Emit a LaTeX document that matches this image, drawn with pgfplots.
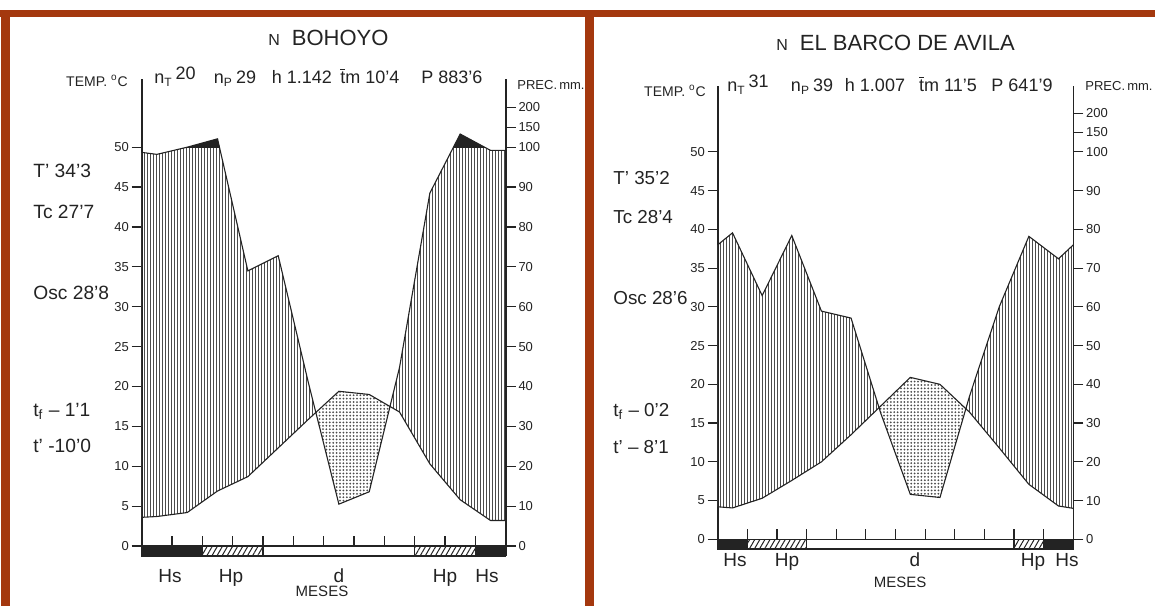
\documentclass[border=0pt]{standalone}
\usepackage{fontspec}
\setmainfont{Liberation Sans}
\usepackage{pgfplots}
\usepackage{pgfplotstable}
\pgfplotsset{compat=1.18}
\usepgfplotslibrary{fillbetween}
\usetikzlibrary{patterns.meta}

\definecolor{rust}{RGB}{164,56,14}
\definecolor{ink}{RGB}{35,35,35}
\definecolor{hatch}{RGB}{75,75,75}
\newcommand\fs[1]{\fontsize{#1}{#1}\selectfont}

% month centre, mean temperature (C), precipitation (mm)
\pgfplotstableread{
x t p
0 3.6 98.7
0.5 3.7 98.2
1.5 4.2 100
2.5 6.9 121
3.5 8.7 69
4.5 12.3 72.8
5.5 15.9 40.8
6.5 19.4 10.5
7.5 19.0 13.6
8.5 16.8 44.8
9.5 10.3 88.5
10.5 5.8 133
11.5 3.2 99.2
12 3.2 99.2
}\bohoyo

\pgfplotstableread{
x t p
0 4.2 76
0.5 4.05 79.1
1.5 5.3 62.9
2.5 7.6 78.4
3.5 10.0 58.9
4.5 13.5 57.1
5.5 17.2 32.6
6.5 20.9 11.6
7.5 20.0 10.8
8.5 16.4 37
9.5 11.8 60
10.5 7.1 78.2
11.5 4.3 72.4
12 4.0 76
}\barco

\pgfplotsset{
  wl/.style={
    scale only axis, xmin=0, xmax=12, ymin=-1.3, ymax=58.5,
    axis x line=none, clip=false,
    tick align=outside, major tick length=5pt,
    tick style={ink, line width=0.6pt},
    y axis line style={ink, line width=0.8pt},
    yticklabel style={font=\fs{6.5}, text=ink, inner sep=1.2pt},
    /pgf/number format/assume math mode=true,
  },
  wlL/.style={wl, axis y line*=left, ytick={0,5,10,15,20,25,30,35,40,45,50}},
  wlR/.style={wl, axis y line*=right,
    ytick={0,5,10,15,20,25,30,35,40,45,50,52.5,55},
    yticklabels={0,10,20,30,40,50,60,70,80,90,100,150,200}},
}

\newcommand\wlplots[1]{%
  \addplot[name path=T, draw=none] table[x=x,y=t]{#1};
  \addplot[name path=P, draw=none] table[x=x,y expr={min(\thisrow{p},100)/2+max(\thisrow{p}-100,0)/20}]{#1};
  \addplot[draw=none, fill=none] fill between[of=P and T, split,
    every even segment/.style={pattern={Lines[angle=90,distance=1.5pt,line width=0.48pt]},pattern color=hatch},
    every odd segment/.style={pattern={Dots[distance=1.7pt,radius=0.5pt]},pattern color=hatch}];
  \begin{scope}
  \clip (axis cs:0,50) rectangle (axis cs:12,62);
  \addplot[fill=ink, draw=none] table[x=x,y expr={min(\thisrow{p},100)/2+max(\thisrow{p}-100,0)/20}]{#1} \closedcycle;
  \end{scope}
  \addplot[ink, line width=0.55pt] table[x=x,y=t]{#1};
  \addplot[ink, line width=0.55pt] table[x=x,y expr={min(\thisrow{p},100)/2+max(\thisrow{p}-100,0)/20}]{#1};
  \addplot[ycomb, ink, line width=0.6pt] coordinates {(1,1.3) (2,1.3) (3,1.3) (4,1.3) (5,1.3) (6,1.3) (7,1.3) (8,1.3) (9,1.3) (10,1.3) (11,1.3)};
  \addplot[ink, line width=0.8pt] coordinates {(0,0) (12,0)};
}
\newcommand\barblack[2]{\addplot[fill=ink, draw=ink, line width=0.6pt] coordinates {(#1,0) (#2,0) (#2,-1.25) (#1,-1.25) (#1,0)};}
\newcommand\barwhite[2]{\addplot[fill=white, draw=ink, line width=0.6pt] coordinates {(#1,0) (#2,0) (#2,-1.25) (#1,-1.25) (#1,0)};}
\newcommand\barhatch[2]{\addplot[fill=white, draw=ink, line width=0.6pt] coordinates {(#1,0) (#2,0) (#2,-1.25) (#1,-1.25) (#1,0)};
  \addplot[draw=none, pattern={Lines[angle=60,distance=2.2pt,line width=0.5pt]}, pattern color=ink] coordinates {(#1,0) (#2,0) (#2,-1.25) (#1,-1.25) (#1,0)};}

\begin{document}
\begin{tikzpicture}

% ---------- BOHOYO ----------
\begin{axis}[wlL, at={(70.85pt,24.8pt)}, anchor=south west, width=182pt, height=238.5pt]
\wlplots{\bohoyo}
\barblack{0}{2}\barhatch{2}{4}\barwhite{4}{9}\barhatch{9}{11}\barblack{11}{12}
\end{axis}
\begin{axis}[wlR, at={(70.85pt,24.8pt)}, anchor=south west, width=182pt, height=238.5pt]
\addplot[draw=none] coordinates {(0,0)};
\end{axis}

% ---------- EL BARCO DE AVILA ----------
\begin{axis}[wlL, at={(358.85pt,28.3pt)}, anchor=south west, width=177.8pt, height=231.7pt]
\wlplots{\barco}
\barblack{0}{1}\barhatch{1}{3}\barwhite{3}{10}\barhatch{10}{11}\barblack{11}{12}
\end{axis}
\begin{axis}[wlR, at={(358.85pt,28.3pt)}, anchor=south west, width=177.8pt, height=231.7pt]
\addplot[draw=none] coordinates {(0,0)};
\end{axis}

\begin{scope}[x=0.5pt, y=-0.5pt, shift={(0pt,303pt)}]
% frame
\fill[rust] (0,10) rectangle (1155,17);
\fill[rust] (1,10) rectangle (10,606);
\fill[rust] (585,10) rectangle (594,606);

\begin{scope}[every node/.style={text=ink, inner sep=0pt}]
% left panel texts
\node[anchor=base west, font=\fs{11}] at (268,46) {{\fs{8}N}\hspace{6pt}BOHOYO};
\node[anchor=base, font=\fs{7}] at (97,87) {TEMP. \textsuperscript{o}C};
\node[anchor=base west, font=\fs{6.5}] at (517,90) {PREC.\,mm.};
\begin{scope}[every node/.append style={anchor=base, font=\fs{9}}]
\node at (175,84) {n\textsubscript{T}\,\raisebox{2pt}{20}};
\node at (235,84) {n\textsubscript{P}\,29};
\node at (302,84) {h 1.142};
\node at (370,84) {$\overline{\hbox{t}}$m 10'4};
\node at (452,84) {P 883'6};
\end{scope}
\begin{scope}[every node/.append style={anchor=base west, font=\fs{9.6}}]
\node at (33,178) {T' 34'3};
\node at (33,219) {Tc 27'7};
\node at (33,299) {Osc 28'8};
\node at (33,416) {t\textsubscript{f} -- 1'1};
\node at (33,452) {t' -10'0};
\end{scope}
\begin{scope}[every node/.append style={anchor=base, font=\fs{9.5}}]
\node at (170,582) {Hs};
\node at (231,582) {Hp};
\node at (339,582) {d};
\node at (445,582) {Hp};
\node at (487,582) {Hs};
\end{scope}
\node[anchor=base, font=\fs{7.5}] at (322,596) {MESES};

% right panel texts
\node[anchor=base west, font=\fs{11}] at (776,51) {{\fs{8}N}\hspace{6pt}EL BARCO DE AVILA};
\node[anchor=base, font=\fs{7}] at (675,97) {TEMP. \textsuperscript{o}C};
\node[anchor=base west, font=\fs{6.5}] at (1085,91) {PREC.\,mm.};
\begin{scope}[every node/.append style={anchor=base, font=\fs{9}}]
\node at (748,92) {n\textsubscript{T}\,\raisebox{2pt}{31}};
\node at (812,92) {n\textsubscript{P}\,39};
\node at (875,92) {h 1.007};
\node at (948,92) {$\overline{\hbox{t}}$m 11'5};
\node at (1022,92) {P 641'9};
\end{scope}
\begin{scope}[every node/.append style={anchor=base west, font=\fs{9.4}}]
\node at (613,184) {T' 35'2};
\node at (613,224) {Tc 28'4};
\node at (613,304) {Osc 28'6};
\node at (613,416) {t\textsubscript{f} -- 0'2};
\node at (613,453) {t' -- 8'1};
\end{scope}
\begin{scope}[every node/.append style={anchor=base, font=\fs{9.5}}]
\node at (735,566) {Hs};
\node at (787,566) {Hp};
\node at (915,566) {d};
\node at (1033,566) {Hp};
\node at (1067,566) {Hs};
\end{scope}
\node[anchor=base, font=\fs{7.5}] at (900,587) {MESES};
\end{scope}
\end{scope}
\pgfresetboundingbox
\useasboundingbox (0,0) rectangle (577.5pt,303pt);
\end{tikzpicture}
\end{document}
